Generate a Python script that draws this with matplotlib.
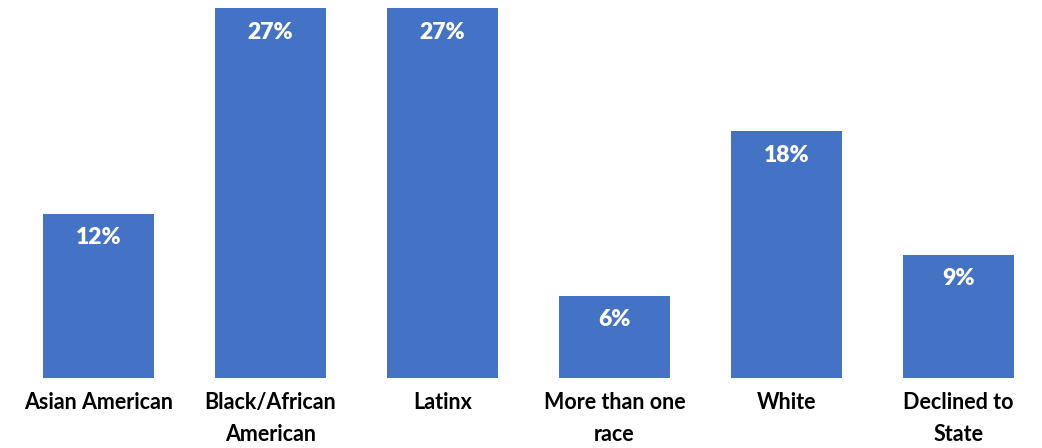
import matplotlib
matplotlib.use('Agg')
import matplotlib.pyplot as plt

categories = ['Asian American', 'Black/African\nAmerican', 'Latinx',
              'More than one\nrace', 'White', 'Declined to\nState']
values = [12, 27, 27, 6, 18, 9]
labels = ['12%', '27%', '27%', '6%', '18%', '9%']

BAR_COLOR = '#4472C4'

plt.rcParams['font.family'] = ['Lato', 'DejaVu Sans']

fig = plt.figure(figsize=(10.42, 4.48), dpi=100)
ax = fig.add_axes([0, 70 / 448, 1, 378 / 448])

x = range(len(categories))
bars = ax.bar(x, values, width=0.645, color=BAR_COLOR)

# value labels sit just under each bar top
for rect, lab in zip(bars, labels):
    ax.annotate(lab, (rect.get_x() + rect.get_width() / 2, rect.get_height()),
                xytext=(0, -24), textcoords='offset pixels',
                ha='center', va='center', color='white',
                fontsize=16.5, fontweight='heavy')

ax.set_xlim(-0.5727, 5.4855)
ax.set_ylim(0, 27.59)
ax.set_xticks(list(x))
ax.set_xticklabels(categories, fontsize=15.5, fontweight='bold', linespacing=1.68)
ax.tick_params(axis='x', length=0, pad=10)
ax.set_yticks([])
for sp in ax.spines.values():
    sp.set_visible(False)

fig.savefig('out.png', dpi=100)
